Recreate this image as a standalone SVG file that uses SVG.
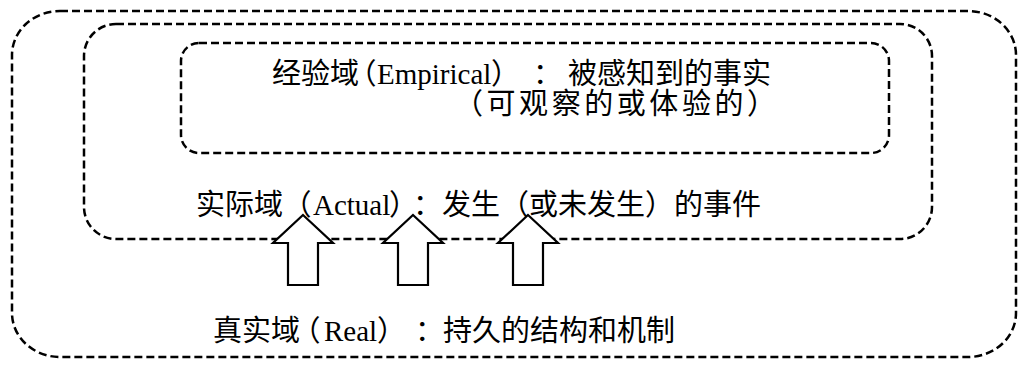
<svg xmlns="http://www.w3.org/2000/svg" width="1019" height="369" viewBox="0 0 1019 369">
<style>
.box{fill:none;stroke:#000;stroke-width:2.5;stroke-dasharray:8 4}
.arrow{fill:#fff;stroke:#000;stroke-width:2.2;stroke-linejoin:miter}
.t{font-family:"Liberation Serif","Noto Sans CJK SC",serif;font-size:29px;fill:#000}
.p{font-feature-settings:"palt" 1}
</style>
<rect width="1019" height="369" fill="#fff"/>
<g id="real">
<rect class="box" x="12" y="11" width="1004" height="346" rx="48" ry="44"/>
<text class="t" y="341"><tspan x="213">真实域</tspan><tspan class="p" x="305">（</tspan><tspan x="324">Real</tspan><tspan class="p" x="378">）</tspan><tspan class="p" x="415">：</tspan><tspan x="443">持久的结构和机制</tspan></text>
</g>
<g id="actual">
<rect class="box" x="84" y="24" width="848" height="215" rx="32" ry="32"/>
<text class="t" y="215"><tspan x="196">实际域</tspan><tspan class="p" x="296">（</tspan><tspan x="313">Actual</tspan><tspan class="p" x="390">）</tspan><tspan class="p" x="413">：</tspan><tspan x="442">发生（或未发生）的事件</tspan></text>
</g>
<g id="empirical">
<rect class="box" x="181" y="43" width="708" height="110" rx="18" ry="18"/>
<text class="t" y="84"><tspan x="272">经验域</tspan><tspan class="p" x="361">（</tspan><tspan x="377">Empirical</tspan><tspan class="p" x="492">）</tspan><tspan class="p" x="533">：</tspan><tspan x="568">被感知到的事实</tspan></text>
<text class="t" x="454" y="114" textLength="322" lengthAdjust="spacing">（可观察的或体验的）</text>
</g>
<g id="connectors">
<path class="arrow" d="M303 215 L333 243 L318 243 L318 285 L288 285 L288 243 L273 243 Z"/>
<path class="arrow" d="M413 215 L443 243 L428 243 L428 285 L398 285 L398 243 L383 243 Z"/>
<path class="arrow" d="M528 215 L558 243 L543 243 L543 285 L513 285 L513 243 L498 243 Z"/>
</g>
</svg>
